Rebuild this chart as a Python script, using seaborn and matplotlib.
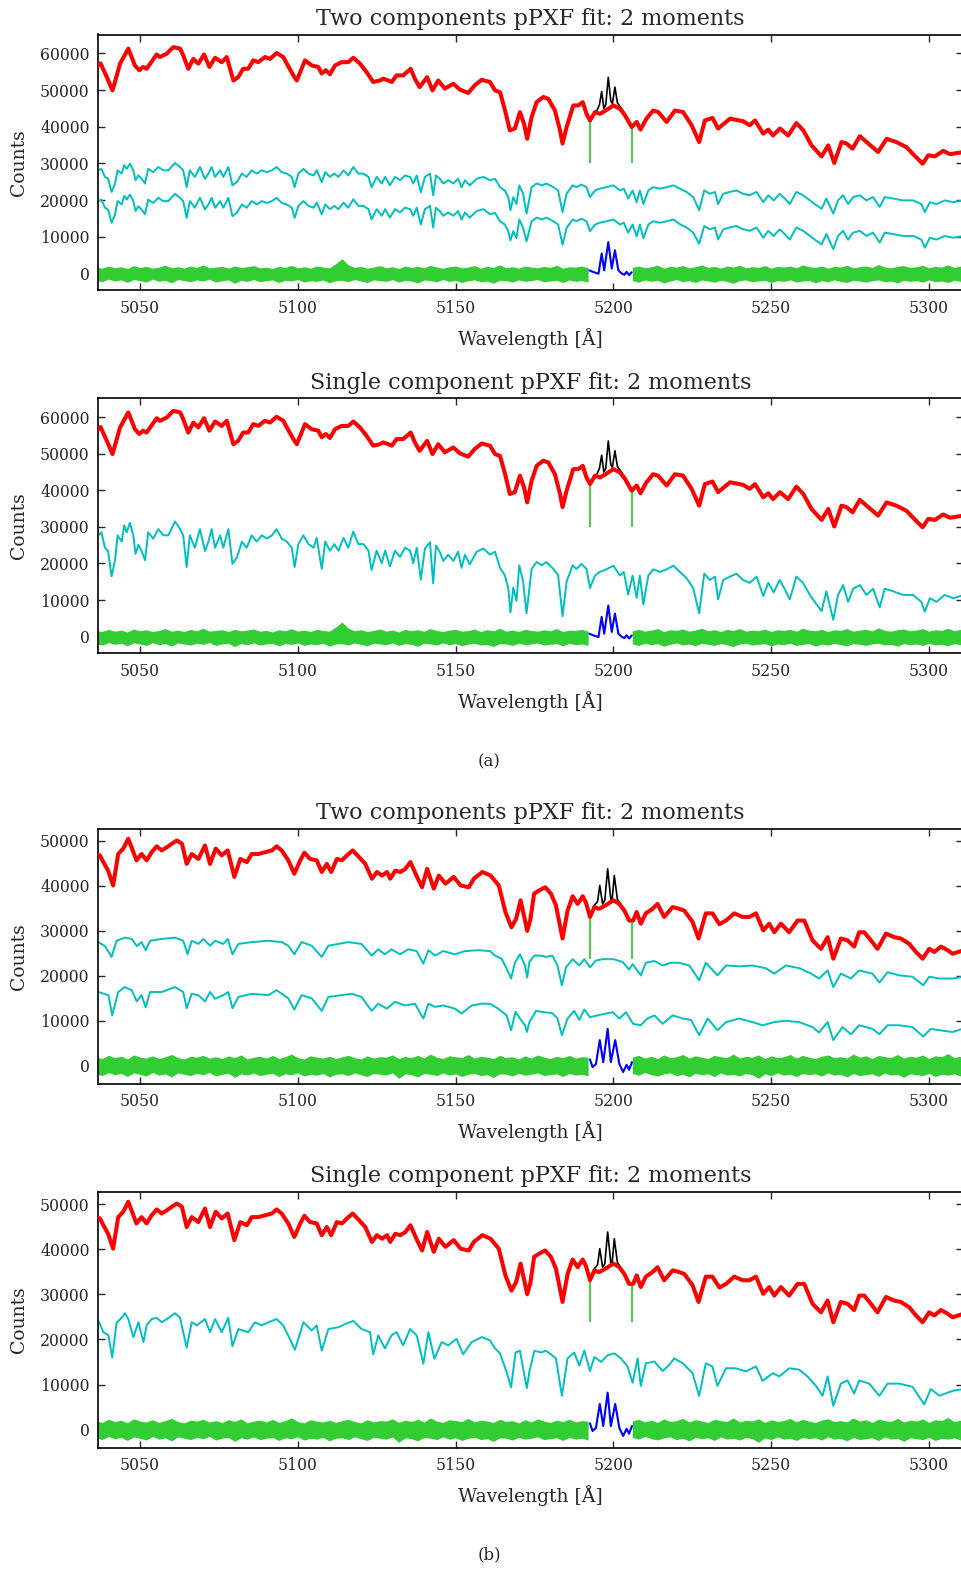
import numpy as np
import matplotlib
matplotlib.use("Agg")
import matplotlib.pyplot as plt
import seaborn as sns

# ---------------- DATA (flux values in thousands of counts) ----------------
# Galaxy (a): best fit (red)
fit_a_wave = [5036.5, 5037.5, 5039.5, 5041.3, 5043.7, 5046.3, 5048.4, 5049.8, 5051.0, 5052.1,
              5055.3, 5056.3, 5058.5, 5059.5, 5060.6, 5062.7, 5063.5, 5065.3, 5066.9, 5068.5,
              5070.3, 5072.0, 5073.8, 5075.9, 5077.5, 5079.6, 5081.1, 5082.7, 5084.3, 5085.9,
              5087.5, 5089.6, 5091.2, 5093.3, 5095.4, 5098.6, 5099.7, 5102.3, 5104.4, 5106.5,
              5107.6, 5108.9, 5110.2, 5111.8, 5113.9, 5116.0, 5117.6, 5119.7, 5121.8, 5123.9,
              5126.0, 5127.1, 5128.7, 5129.8, 5131.3, 5133.4, 5135.8, 5137.1, 5138.6, 5141.0,
              5142.7, 5144.5, 5146.6, 5149.3, 5151.4, 5154.0, 5156.1, 5158.3, 5160.9, 5162.5,
              5164.1, 5165.7, 5167.2, 5168.8, 5170.4, 5171.7, 5172.7, 5174.1, 5175.7, 5177.8,
              5179.4, 5181.5, 5183.1, 5183.9, 5185.2, 5187.3, 5188.9, 5190.3, 5191.5, 5192.6,
              5194.2, 5195.8, 5197.9, 5200.0, 5202.1, 5203.7, 5205.8, 5207.4, 5208.6, 5210.5,
              5212.6, 5214.2, 5216.9, 5219.5, 5222.1, 5224.8, 5227.2, 5229.0, 5231.4, 5233.2,
              5237.0, 5241.1, 5243.2, 5244.9, 5247.5, 5249.1, 5250.6, 5252.8, 5255.4, 5258.0,
              5260.2, 5262.8, 5266.0, 5268.1, 5270.0, 5272.3, 5273.9, 5275.8, 5278.1, 5280.8,
              5283.9, 5286.6, 5289.7, 5292.9, 5295.0, 5298.0, 5299.8, 5301.9, 5304.5, 5306.7,
              5311.0]
fit_a_flux = [56.5, 57.3, 53.5, 49.9, 57.2, 61.3, 56.7, 55.4, 56.3, 55.8,
              59.7, 59.0, 59.9, 60.8, 61.7, 61.3, 59.9, 55.8, 58.5, 57.2,
              59.7, 56.3, 58.8, 57.6, 59.0, 52.6, 53.5, 55.8, 55.8, 58.1,
              57.6, 59.0, 58.5, 60.1, 59.0, 54.0, 52.6, 58.1, 56.7, 56.3,
              54.5, 55.4, 54.3, 56.7, 57.6, 57.6, 58.8, 57.2, 54.9, 52.2,
              52.6, 53.1, 52.6, 52.2, 54.0, 54.0, 55.8, 53.1, 50.8, 53.5,
              49.9, 52.6, 50.4, 51.7, 50.1, 49.2, 51.3, 52.8, 52.2, 49.9,
              49.4, 44.4, 39.0, 39.5, 44.0, 40.8, 36.7, 42.6, 46.7, 48.1,
              47.6, 44.4, 39.0, 35.4, 39.9, 45.8, 45.8, 46.7, 43.5, 41.7,
              44.0, 43.5, 44.6, 45.8, 44.9, 43.1, 39.9, 41.3, 39.2, 42.2,
              44.4, 44.0, 41.3, 44.4, 44.0, 40.4, 35.8, 41.7, 42.4, 39.5,
              42.2, 41.5, 40.4, 41.7, 38.1, 39.2, 37.6, 39.5, 37.6, 41.0,
              39.0, 34.9, 31.9, 34.9, 30.1, 35.8, 35.4, 34.0, 37.4, 35.4,
              33.1, 36.7, 35.8, 34.4, 32.5, 29.9, 32.2, 31.9, 33.4, 32.5,
              33.1]
# Galaxy (a): observed spectrum in the emission-line window (black)
emis_a_wave = [5192.6, 5193.6, 5194.8, 5195.6, 5196.3, 5197.0, 5197.6, 5198.4, 5199.2, 5199.7,
               5200.5, 5201.3, 5202.2, 5203.7, 5205.8]
emis_a_flux = [41.7, 43.0, 44.4, 46.0, 49.6, 45.0, 46.0, 53.5, 47.0, 46.3,
               50.8, 46.5, 45.4, 43.5, 39.9]
# Galaxy (a): emission residual (blue)
blue_a_wave = [5192.4, 5193.5, 5195.3, 5196.3, 5197.1, 5198.4, 5199.5, 5200.5, 5201.6, 5202.6,
               5203.5, 5204.2, 5205.0, 5205.8]
blue_a_flux = [0.8, 0.4, -0.1, 5.4, 0.8, 8.5, 1.3, 6.3, 0.8, 0.0, -0.4, 0.4, -0.5, 0.3]
# Galaxy (a): stellar components (cyan)
comp_a_wave = [5036.8, 5037.8, 5038.9, 5039.9, 5041.0, 5042.1, 5042.9, 5044.2, 5045.0, 5045.8,
               5046.8, 5047.9, 5048.6, 5049.5, 5050.5, 5051.6, 5052.6, 5054.2, 5055.8, 5057.4,
               5059.0, 5061.1, 5062.7, 5063.7, 5064.8, 5065.8, 5067.4, 5069.0, 5070.6, 5071.7,
               5072.7, 5073.8, 5075.4, 5076.4, 5078.0, 5079.3, 5080.7, 5082.3, 5083.8, 5085.4,
               5087.0, 5088.6, 5090.2, 5091.8, 5093.3, 5094.9, 5096.5, 5098.1, 5099.0, 5100.2,
               5101.8, 5103.4, 5105.0, 5106.0, 5107.6, 5108.7, 5110.2, 5111.6, 5112.9, 5114.5,
               5116.0, 5117.6, 5119.2, 5120.8, 5122.4, 5123.4, 5125.0, 5126.6, 5127.7, 5129.2,
               5130.8, 5132.4, 5134.0, 5135.6, 5136.6, 5137.7, 5139.0, 5140.3, 5141.9, 5142.9,
               5143.8, 5145.0, 5146.1, 5147.7, 5149.3, 5150.8, 5151.9, 5153.0, 5154.5, 5156.7,
               5158.8, 5160.9, 5162.5, 5164.1, 5165.6, 5166.7, 5167.4, 5168.3, 5169.3, 5170.2,
               5171.4, 5172.5, 5174.1, 5175.7, 5177.3, 5178.8, 5181.0, 5182.5, 5183.9, 5185.2,
               5187.1, 5188.3, 5189.9, 5191.5, 5192.6, 5194.2, 5195.7, 5197.8, 5200.0, 5202.1,
               5203.3, 5204.7, 5206.1, 5207.4, 5208.4, 5209.5, 5211.1, 5212.6, 5214.8, 5216.9,
               5219.0, 5221.1, 5223.2, 5225.3, 5227.2, 5228.8, 5230.6, 5232.2, 5233.2, 5234.8,
               5236.9, 5239.0, 5241.1, 5243.2, 5245.4, 5247.5, 5249.1, 5250.8, 5252.7, 5254.3,
               5255.9, 5258.0, 5260.1, 5262.3, 5263.8, 5266.0, 5267.5, 5269.7, 5271.2, 5272.8,
               5274.4, 5276.0, 5278.1, 5280.2, 5282.3, 5284.4, 5286.0, 5288.7, 5291.8, 5295.0,
               5297.6, 5298.7, 5300.3, 5302.4, 5305.0, 5307.7, 5311.0]
comp_a_upper = [28.1, 28.5, 26.3, 25.8, 22.2, 24.5, 28.1, 27.2, 29.5, 28.5,
                29.9, 28.1, 25.4, 26.7, 25.8, 24.5, 28.5, 27.6, 29.0, 28.1,
                28.1, 30.1, 29.0, 28.1, 23.5, 28.1, 26.3, 29.0, 25.8, 27.2,
                29.0, 26.3, 28.1, 26.3, 29.0, 24.0, 24.9, 27.2, 26.3, 28.1,
                27.2, 28.1, 27.6, 28.1, 29.0, 27.6, 27.2, 26.3, 23.5, 27.2,
                28.5, 27.2, 26.7, 28.1, 24.9, 27.6, 26.3, 27.2, 26.3, 28.1,
                26.7, 29.0, 27.2, 27.2, 26.3, 23.5, 26.3, 24.5, 26.3, 24.0,
                26.3, 25.4, 26.7, 26.3, 24.5, 26.7, 22.1, 26.3, 27.2, 21.3,
                26.7, 25.8, 24.5, 25.4, 24.5, 25.8, 23.5, 25.4, 24.0, 25.8,
                26.3, 25.4, 25.8, 23.5, 22.6, 20.8, 17.2, 20.8, 18.9, 24.0,
                21.7, 16.3, 23.5, 24.5, 24.0, 24.5, 23.5, 22.6, 16.7, 21.7,
                24.0, 23.5, 24.2, 23.5, 20.8, 22.6, 23.1, 23.5, 24.0, 22.6,
                23.1, 20.4, 22.6, 19.4, 22.6, 18.9, 22.6, 23.5, 23.1, 23.5,
                24.0, 23.1, 22.2, 20.8, 17.2, 22.6, 21.7, 22.2, 18.9, 21.7,
                22.2, 22.6, 21.7, 21.3, 22.2, 19.4, 21.3, 19.9, 21.7, 20.4,
                18.9, 22.2, 21.3, 19.9, 18.9, 17.6, 20.4, 16.3, 19.9, 21.3,
                18.9, 20.8, 21.3, 19.9, 20.8, 18.1, 20.8, 20.4, 19.9, 19.9,
                18.9, 16.7, 19.4, 18.9, 19.9, 19.4, 19.9]
comp_a_lower = [19.7, 20.1, 17.9, 17.4, 13.8, 16.1, 19.7, 18.8, 21.1, 20.1,
                21.5, 19.7, 17.0, 18.3, 17.4, 16.1, 20.1, 19.2, 20.6, 19.7,
                19.7, 21.7, 20.6, 19.7, 15.1, 19.7, 17.9, 20.6, 17.4, 18.8,
                20.6, 17.9, 19.7, 17.9, 20.6, 15.6, 16.5, 18.8, 17.9, 19.7,
                18.8, 19.7, 19.2, 19.7, 20.6, 19.2, 18.8, 17.9, 15.1, 18.4,
                19.7, 18.4, 17.9, 19.3, 16.1, 18.8, 17.5, 18.4, 17.5, 19.3,
                17.9, 20.2, 18.4, 18.4, 17.5, 14.7, 17.5, 15.7, 17.5, 15.2,
                17.5, 16.6, 17.9, 17.5, 15.7, 17.9, 13.3, 17.5, 18.4, 12.5,
                17.9, 17.0, 15.7, 16.6, 15.7, 17.0, 14.7, 16.6, 15.2, 17.0,
                17.5, 16.1, 16.5, 14.2, 13.3, 11.5, 9.0, 11.5, 9.6, 14.7,
                12.4, 8.7, 14.2, 15.2, 14.7, 15.2, 14.2, 13.3, 7.8, 12.4,
                14.7, 14.2, 14.9, 14.2, 11.5, 13.3, 13.8, 14.2, 14.7, 13.3,
                13.8, 11.1, 13.3, 10.1, 13.3, 9.6, 13.3, 14.2, 13.8, 14.2,
                14.7, 13.4, 12.5, 11.1, 8.1, 12.9, 12.0, 12.5, 9.2, 12.0,
                12.5, 12.9, 12.0, 11.6, 12.5, 9.7, 11.6, 10.2, 12.0, 10.7,
                9.2, 12.5, 11.6, 10.2, 9.2, 7.9, 10.7, 6.6, 10.2, 11.6,
                9.2, 11.1, 11.6, 10.2, 11.1, 8.4, 11.1, 10.7, 10.2, 10.2,
                9.2, 7.0, 9.7, 9.2, 10.2, 9.7, 10.2]
comp_a_single = [27.7, 28.5, 24.3, 23.4, 16.5, 20.9, 27.7, 26.0, 30.4, 28.5,
                 31.1, 27.7, 22.6, 25.1, 23.4, 20.9, 28.5, 26.8, 29.4, 27.7,
                 27.7, 31.5, 29.4, 27.7, 19.0, 27.7, 24.3, 29.4, 23.4, 26.0,
                 29.4, 24.3, 27.7, 24.3, 29.4, 19.9, 21.6, 26.0, 24.3, 27.7,
                 26.0, 27.7, 26.8, 27.7, 29.4, 26.8, 26.0, 24.3, 19.0, 25.3,
                 27.7, 25.3, 24.3, 27.0, 18.5, 26.0, 23.5, 25.3, 23.5, 27.0,
                 24.3, 28.7, 25.3, 25.3, 23.5, 18.2, 23.5, 20.1, 23.5, 19.2,
                 23.5, 21.8, 24.3, 23.5, 20.1, 24.3, 15.6, 24.1, 25.8, 14.6,
                 24.9, 23.2, 20.7, 22.4, 20.7, 23.2, 18.8, 22.4, 19.8, 23.2,
                 24.1, 22.4, 23.2, 18.8, 16.8, 13.4, 6.6, 13.4, 9.8, 19.5,
                 15.1, 6.4, 18.5, 20.4, 19.5, 20.4, 18.5, 16.8, 5.6, 15.1,
                 19.5, 18.5, 19.9, 18.5, 13.3, 16.7, 17.7, 18.4, 19.4, 16.7,
                 17.7, 11.5, 16.7, 10.6, 16.7, 8.8, 16.7, 18.4, 17.7, 18.4,
                 19.4, 17.7, 16.0, 13.3, 6.4, 17.2, 15.5, 16.4, 10.2, 15.5,
                 16.4, 17.2, 15.5, 14.7, 16.4, 11.1, 14.7, 12.1, 15.5, 13.0,
                 10.2, 16.4, 14.7, 11.4, 9.5, 7.0, 12.4, 4.6, 11.4, 14.1,
                 9.5, 13.1, 14.1, 11.4, 13.1, 8.0, 13.1, 12.4, 11.4, 11.4,
                 9.5, 6.8, 10.5, 9.5, 11.4, 10.5, 11.4]

# Galaxy (b): best fit (red)
fit_b_wave = [5035.7, 5037.3, 5038.4, 5039.9, 5041.5, 5043.1, 5044.7, 5046.3, 5047.9, 5048.9,
              5050.5, 5052.1, 5053.7, 5055.3, 5056.9, 5058.5, 5060.1, 5061.7, 5063.3, 5064.8,
              5066.4, 5068.5, 5070.6, 5072.2, 5074.0, 5075.9, 5077.8, 5079.9, 5081.8, 5083.9,
              5085.4, 5087.5, 5089.6, 5091.8, 5093.3, 5094.9, 5097.0, 5098.9, 5100.8, 5102.1,
              5103.9, 5106.0, 5107.6, 5109.2, 5110.6, 5112.4, 5114.0, 5115.6, 5117.4, 5119.3,
              5121.4, 5123.5, 5125.1, 5126.7, 5128.3, 5129.3, 5130.9, 5132.5, 5134.1, 5135.7,
              5137.8, 5139.4, 5141.0, 5143.1, 5144.7, 5146.8, 5149.4, 5151.6, 5154.2, 5155.8,
              5158.5, 5161.1, 5163.7, 5165.8, 5167.7, 5169.2, 5170.6, 5171.8, 5172.7, 5173.7,
              5174.9, 5176.5, 5178.4, 5180.2, 5181.8, 5183.9, 5185.5, 5187.1, 5188.7, 5190.3,
              5191.3, 5192.6, 5194.0, 5195.5, 5197.6, 5200.0, 5201.9, 5203.5, 5205.0, 5206.3,
              5207.4, 5208.7, 5210.3, 5212.4, 5214.0, 5216.1, 5218.8, 5220.9, 5222.5, 5225.1,
              5227.0, 5229.3, 5231.4, 5233.6, 5235.7, 5238.3, 5241.0, 5243.1, 5245.2, 5247.5,
              5249.4, 5251.0, 5253.1, 5255.7, 5258.4, 5260.5, 5263.1, 5265.8, 5267.9, 5269.7,
              5272.1, 5274.2, 5276.3, 5277.9, 5279.5, 5281.6, 5283.7, 5286.4, 5289.0, 5291.1,
              5293.8, 5295.9, 5298.0, 5300.1, 5301.7, 5303.8, 5305.9, 5307.5, 5311.0]
fit_b_flux = [47.1, 46.8, 45.3, 43.4, 40.1, 47.1, 48.3, 50.5, 47.5, 45.7,
              47.1, 45.7, 47.5, 48.8, 47.9, 48.6, 49.4, 50.1, 49.4, 44.9,
              47.1, 46.0, 49.0, 44.9, 48.3, 46.8, 47.9, 42.0, 46.0, 45.3,
              47.1, 47.1, 47.5, 47.9, 48.8, 47.9, 45.7, 42.7, 45.7, 47.4,
              46.0, 45.7, 43.1, 44.9, 43.1, 46.0, 45.7, 46.8, 47.9, 46.5,
              44.9, 41.6, 43.1, 42.3, 43.1, 41.6, 43.4, 43.1, 43.8, 45.3,
              42.0, 39.7, 43.8, 39.4, 42.3, 40.5, 42.0, 40.1, 39.7, 41.6,
              43.1, 42.3, 40.1, 34.2, 30.8, 32.7, 36.8, 33.0, 30.0, 32.5,
              38.3, 39.0, 39.7, 38.3, 35.7, 28.3, 34.5, 37.7, 36.0, 37.7,
              36.3, 33.1, 35.3, 34.9, 35.7, 36.8, 36.0, 34.5, 32.3, 32.3,
              34.2, 31.6, 33.9, 34.9, 36.0, 33.1, 35.3, 34.9, 34.5, 32.0,
              28.3, 33.9, 33.9, 31.5, 32.3, 33.9, 33.1, 33.1, 33.9, 30.1,
              31.6, 29.7, 31.6, 29.7, 32.3, 32.3, 27.9, 26.0, 28.6, 23.8,
              28.3, 27.9, 26.5, 29.7, 29.7, 27.9, 26.0, 29.4, 28.6, 28.3,
              27.1, 25.3, 23.8, 26.0, 25.3, 26.5, 25.7, 24.9, 25.7]
emis_b_wave = [5192.6, 5194.0, 5195.0, 5195.7, 5196.6, 5197.3, 5198.2, 5199.2, 5199.6, 5200.3,
               5201.3, 5202.3, 5203.5, 5205.0, 5206.3]
emis_b_flux = [33.1, 35.7, 36.5, 40.1, 36.0, 36.8, 43.8, 37.0, 36.8, 42.3,
               37.0, 36.0, 34.5, 32.3, 32.3]
blue_b_wave = [5192.6, 5193.4, 5194.5, 5195.7, 5196.8, 5198.2, 5199.2, 5200.6, 5201.9, 5203.1,
               5204.2, 5205.0, 5205.9]
blue_b_flux = [1.4, -0.3, 0.4, 5.7, 0.8, 8.2, 0.8, 5.7, 0.4, -1.4, 0.2, -0.9, 0.8]
comp_b_upper_wave = [5036.8, 5038.9, 5041.0, 5042.6, 5045.2, 5047.4, 5049.0, 5050.5, 5051.8, 5053.2,
                     5056.9, 5061.1, 5063.7, 5065.1, 5066.4, 5068.5, 5070.1, 5072.2, 5073.8, 5076.4,
                     5077.8, 5079.3, 5081.2, 5085.4, 5090.7, 5094.9, 5097.0, 5098.9, 5101.2, 5104.4,
                     5107.6, 5109.7, 5112.9, 5116.0, 5120.2, 5123.4, 5125.5, 5127.6, 5129.7, 5132.4,
                     5135.0, 5137.7, 5139.8, 5141.4, 5143.5, 5146.1, 5149.8, 5153.0, 5157.2, 5160.9,
                     5162.5, 5164.6, 5166.2, 5167.6, 5168.8, 5170.4, 5172.0, 5172.7, 5173.4, 5175.0,
                     5177.1, 5178.6, 5180.7, 5182.3, 5183.7, 5185.0, 5187.1, 5189.2, 5190.8, 5192.6,
                     5194.5, 5196.6, 5200.0, 5202.9, 5205.0, 5206.1, 5208.7, 5210.3, 5213.0, 5215.6,
                     5218.2, 5220.9, 5224.1, 5227.2, 5229.3, 5233.0, 5235.7, 5239.9, 5244.1, 5248.3,
                     5251.0, 5254.7, 5258.9, 5262.6, 5265.2, 5267.9, 5269.7, 5272.1, 5275.3, 5277.9,
                     5282.1, 5284.3, 5286.9, 5290.6, 5294.8, 5298.2, 5300.1, 5303.3, 5307.5, 5311.0]
comp_b_upper = [27.5, 26.6, 24.2, 27.8, 28.5, 28.2, 26.6, 27.5, 25.7, 27.8,
                28.2, 28.5, 27.8, 24.8, 27.8, 27.1, 28.2, 26.7, 27.8, 27.1,
                28.2, 24.8, 27.1, 27.5, 27.8, 27.5, 26.7, 24.8, 27.5, 26.7,
                24.2, 26.7, 27.1, 27.5, 27.1, 24.5, 25.9, 24.8, 25.9, 24.8,
                25.9, 25.5, 22.7, 25.7, 24.5, 25.5, 24.8, 25.5, 25.7, 25.5,
                24.5, 23.8, 21.6, 19.4, 22.9, 24.8, 22.3, 19.6, 23.1, 24.5,
                24.5, 24.2, 24.5, 22.3, 17.9, 21.9, 23.7, 22.3, 23.7, 21.9,
                23.4, 23.7, 23.7, 23.1, 21.4, 22.6, 20.1, 22.9, 23.3, 22.3,
                22.9, 22.9, 22.3, 19.0, 22.9, 20.1, 22.3, 22.1, 22.3, 21.7,
                20.5, 22.3, 21.7, 20.5, 19.4, 21.2, 17.5, 20.5, 19.4, 21.2,
                20.5, 18.5, 20.8, 20.1, 19.8, 17.9, 19.8, 19.4, 19.4, 19.8]
comp_b_lower_wave = [5036.8, 5040.0, 5041.2, 5043.1, 5045.2, 5047.4, 5049.0, 5050.5, 5051.8, 5053.2,
                     5056.9, 5061.1, 5063.7, 5064.8, 5066.4, 5068.5, 5070.6, 5072.2, 5073.8, 5076.4,
                     5078.0, 5079.3, 5081.2, 5085.4, 5090.7, 5093.3, 5097.0, 5098.9, 5101.2, 5104.4,
                     5107.6, 5109.7, 5113.9, 5117.1, 5120.2, 5123.4, 5125.5, 5128.2, 5130.8, 5134.0,
                     5137.1, 5139.8, 5141.4, 5143.5, 5146.1, 5149.8, 5151.9, 5155.1, 5158.3, 5160.9,
                     5163.5, 5166.2, 5167.6, 5169.0, 5170.4, 5172.0, 5172.6, 5173.4, 5175.5, 5178.1,
                     5180.7, 5182.3, 5183.7, 5185.5, 5187.6, 5189.2, 5190.8, 5192.6, 5195.0, 5197.6,
                     5199.8, 5201.9, 5204.0, 5206.3, 5208.7, 5210.8, 5213.0, 5215.6, 5218.8, 5222.0,
                     5224.6, 5227.2, 5229.9, 5233.0, 5235.7, 5239.9, 5244.1, 5247.3, 5251.0, 5254.7,
                     5258.9, 5263.1, 5265.2, 5267.9, 5269.7, 5272.6, 5275.3, 5277.9, 5282.1, 5284.3,
                     5286.9, 5290.6, 5294.8, 5298.2, 5300.6, 5303.3, 5307.5, 5311.0]
comp_b_lower = [16.4, 15.7, 11.2, 16.4, 17.5, 16.8, 14.3, 15.7, 13.0, 16.4,
                16.4, 17.5, 16.4, 12.8, 16.0, 15.7, 14.3, 16.4, 14.9, 15.7,
                16.4, 12.8, 15.3, 16.0, 15.7, 16.8, 15.0, 12.5, 15.7, 15.0,
                12.2, 15.3, 15.7, 16.0, 15.3, 12.2, 13.8, 12.7, 14.2, 13.4,
                13.8, 10.5, 13.8, 13.1, 13.4, 12.7, 11.6, 13.4, 13.8, 13.8,
                12.7, 11.2, 7.9, 12.0, 10.5, 9.0, 7.5, 9.7, 12.2, 11.9,
                11.7, 10.5, 6.8, 10.5, 12.2, 10.2, 12.5, 10.8, 11.2, 11.6,
                11.9, 10.5, 11.9, 9.3, 9.0, 10.5, 11.2, 9.3, 11.2, 10.5,
                10.2, 6.8, 10.5, 7.9, 9.7, 10.5, 9.7, 9.0, 9.7, 10.0,
                9.7, 8.6, 7.4, 9.7, 5.7, 8.6, 7.0, 9.0, 8.2, 7.0,
                9.0, 9.0, 8.6, 6.5, 8.2, 7.9, 7.5, 8.3]
comp_b_single_wave = [5036.8, 5038.4, 5040.0, 5041.2, 5042.6, 5044.2, 5045.2, 5046.3, 5047.9, 5049.5,
                      5051.1, 5052.1, 5053.7, 5055.3, 5056.9, 5058.5, 5061.1, 5062.7, 5064.8, 5066.4,
                      5068.0, 5070.6, 5072.2, 5073.8, 5075.9, 5078.0, 5079.3, 5081.2, 5084.3, 5086.4,
                      5088.5, 5090.7, 5093.3, 5095.4, 5097.5, 5099.1, 5101.8, 5104.4, 5106.0, 5107.6,
                      5109.7, 5112.9, 5115.0, 5117.6, 5120.2, 5122.9, 5123.9, 5125.5, 5127.6, 5129.7,
                      5131.3, 5133.4, 5135.6, 5137.7, 5139.8, 5141.4, 5143.3, 5145.6, 5147.7, 5150.3,
                      5152.4, 5155.1, 5158.3, 5160.9, 5162.5, 5164.1, 5166.2, 5167.6, 5169.0, 5170.4,
                      5172.0, 5172.6, 5173.4, 5175.0, 5177.1, 5178.6, 5180.2, 5181.8, 5183.7, 5185.5,
                      5187.6, 5189.2, 5190.8, 5192.6, 5194.0, 5196.1, 5198.2, 5200.3, 5202.4, 5204.5,
                      5206.1, 5207.7, 5208.7, 5210.3, 5213.0, 5215.6, 5217.7, 5219.3, 5222.0, 5225.1,
                      5227.2, 5229.3, 5231.4, 5233.0, 5235.7, 5238.8, 5242.0, 5245.2, 5247.3, 5250.5,
                      5252.6, 5255.7, 5258.9, 5261.5, 5264.2, 5266.3, 5267.9, 5269.7, 5272.1, 5274.2,
                      5276.3, 5277.9, 5281.1, 5284.3, 5286.9, 5290.6, 5294.8, 5298.5, 5300.6, 5303.3,
                      5307.5, 5311.0]
comp_b_single = [24.2, 21.6, 20.9, 16.0, 23.7, 24.8, 25.8, 24.5, 20.5, 23.8,
                 19.4, 23.1, 24.5, 24.8, 23.8, 24.5, 25.8, 24.8, 18.2, 23.8,
                 23.1, 24.5, 21.6, 24.5, 21.6, 24.8, 18.5, 22.3, 21.6, 23.8,
                 23.1, 23.8, 24.5, 23.1, 20.1, 17.7, 23.8, 22.0, 23.1, 17.5,
                 22.3, 22.7, 23.4, 24.1, 22.3, 21.6, 16.7, 20.9, 18.0, 20.9,
                 21.6, 18.7, 22.3, 20.9, 14.6, 21.6, 15.7, 19.4, 18.7, 20.1,
                 16.7, 19.4, 20.5, 19.8, 18.0, 16.9, 12.7, 9.4, 17.1, 17.5,
                 11.3, 9.2, 12.9, 17.5, 17.1, 17.5, 16.7, 15.8, 7.5, 15.8,
                 17.1, 14.2, 17.5, 13.0, 16.1, 15.0, 16.5, 16.9, 15.8, 14.0,
                 10.4, 15.8, 9.7, 14.7, 15.1, 13.0, 14.3, 15.8, 14.7, 12.5,
                 7.5, 14.7, 14.0, 9.7, 13.6, 13.6, 12.9, 14.0, 10.8, 12.5,
                 11.8, 13.6, 13.3, 11.8, 9.7, 7.5, 11.8, 5.3, 10.2, 10.9,
                 8.0, 10.9, 10.2, 7.5, 10.2, 10.2, 9.5, 5.6, 9.0, 7.5,
                 8.6, 9.0]

# Residual envelopes (green), 2 A steps; left: 5036..5192, right: 5206..5312
res_left_wave = list(range(5036, 5193, 2))
res_right_wave = list(range(5206, 5313, 2))
res_a_hi_left = [1.7, 1.4, 2.0, 1.5, 1.8, 1.3, 2.1, 1.6, 1.9, 1.4, 1.7, 2.2, 1.5, 1.8, 1.4, 2.0, 1.6, 2.3, 1.5, 1.7,
                 1.9, 1.4, 2.0, 1.6, 1.8, 2.1, 1.5, 1.7, 1.3, 1.9, 1.6, 2.2, 1.5, 1.8, 1.4, 2.0, 1.7, 1.5, 2.6, 4.0,
                 2.3, 1.6, 1.9, 1.4, 1.7, 2.1, 1.5, 1.8, 1.3, 2.0, 1.6, 1.9, 1.5, 2.2, 1.7, 1.4, 1.8, 2.0, 1.5, 1.7,
                 2.1, 1.4, 1.9, 1.6, 2.3, 1.5, 1.8, 1.4, 2.0, 1.7, 1.5, 1.9, 1.6, 2.2, 1.4, 1.8, 1.7, 2.0, 1.5]
res_a_lo_left = [-1.9, -2.3, -1.6, -2.1, -1.8, -2.5, -1.7, -2.0, -2.4, -1.6, -2.2, -1.9, -2.6, -1.7, -2.0, -2.3, -1.8, -2.1, -1.6, -2.4,
                 -2.0, -1.8, -2.7, -1.9, -2.2, -1.7, -2.3, -2.0, -1.8, -2.5, -1.9, -2.1, -1.7, -2.4, -2.0, -2.2, -1.8, -2.6, -2.0, -1.9,
                 -2.3, -1.7, -2.1, -2.5, -1.8, -2.0, -2.2, -1.7, -2.4, -1.9, -2.1, -2.6, -1.8, -2.0, -2.3, -1.7, -2.2, -1.9, -2.5, -2.0,
                 -1.8, -2.3, -2.1, -2.7, -1.9, -2.0, -2.4, -1.8, -2.2, -2.0, -1.7, -2.3, -2.1, -1.9, -2.5, -1.8, -2.2, -2.0, -2.4]
res_a_hi_right = [1.6, 2.0, 1.5, 1.8, 2.2, 1.4, 1.9, 1.7, 2.1, 1.5, 1.8, 2.3, 1.6, 1.9, 1.4, 2.0, 1.7, 2.2, 1.5, 1.8,
                  1.6, 2.1, 1.4, 1.9, 1.7, 2.0, 1.5, 2.3, 1.8, 1.6, 2.0, 1.4, 1.9, 1.7, 2.2, 1.5, 1.8, 2.0, 1.6, 2.4,
                  1.7, 1.5, 1.9, 2.1, 1.6, 1.8, 2.2, 1.5, 1.9, 1.7, 2.3, 1.6, 2.0, 1.8]
res_a_lo_right = [-2.0, -2.4, -1.8, -2.2, -1.9, -2.6, -2.1, -1.7, -2.3, -2.0, -2.5, -1.8, -2.1, -2.4, -1.9, -2.2, -2.7, -2.0, -1.8, -2.3,
                  -2.1, -1.9, -2.5, -2.0, -2.2, -1.8, -2.4, -2.1, -1.9, -2.6, -2.0, -2.3, -1.8, -2.2, -2.5, -1.9, -2.1, -2.4, -2.0, -1.8,
                  -2.3, -2.1, -2.6, -1.9, -2.2, -2.0, -2.4, -1.8, -2.3, -2.1, -2.5, -1.9, -2.2, -2.0]
res_b_hi_left = [2.0, 1.6, 2.3, 1.8, 2.1, 1.5, 2.4, 1.9, 1.7, 2.2, 1.6, 2.0, 2.5, 1.8, 1.5, 2.1, 1.9, 2.3, 1.7, 2.0,
                 1.6, 2.2, 1.8, 2.4, 1.5, 1.9, 2.1, 1.7, 2.3, 1.6, 2.0, 2.6, 1.8, 1.5, 2.2, 1.9, 1.7, 2.1, 1.6, 2.0,
                 2.3, 1.8, 1.5, 2.2, 1.7, 2.0, 1.9, 2.4, 1.6, 2.1, 1.8, 2.3, 1.7, 2.6, 1.9, 1.6, 2.2, 2.0, 1.8, 2.5,
                 1.7, 2.1, 1.9, 1.6, 2.3, 1.8, 2.0, 1.5, 2.2, 1.7, 2.4, 1.9, 1.6, 2.1, 1.8, 2.3, 1.7, 2.0, 1.9]
res_b_lo_left = [-1.8, -2.2, -1.5, -2.0, -1.7, -2.4, -1.6, -1.9, -2.3, -1.5, -2.1, -1.8, -2.5, -1.6, -1.9, -2.2, -1.7, -2.0, -1.5, -2.3,
                 -1.9, -1.7, -2.6, -1.8, -2.1, -1.6, -2.2, -1.9, -1.7, -2.4, -1.8, -2.0, -1.6, -2.3, -1.9, -2.1, -1.7, -2.5, -1.9, -1.8,
                 -2.2, -1.6, -2.0, -2.4, -1.7, -1.9, -2.1, -1.6, -2.8, -1.8, -2.0, -2.5, -1.7, -1.9, -2.2, -1.6, -2.1, -1.8, -2.4, -1.9,
                 -1.7, -2.2, -2.0, -2.6, -1.8, -1.9, -2.3, -1.7, -2.1, -1.9, -1.6, -2.2, -2.0, -1.8, -2.4, -1.7, -2.1, -1.9, -2.3]
res_b_hi_right = [1.9, 2.3, 1.7, 2.1, 1.6, 2.4, 1.8, 2.0, 2.5, 1.7, 2.2, 1.9, 1.6, 2.3, 2.0, 1.8, 2.6, 1.7, 2.1, 1.9,
                  2.4, 1.6, 2.2, 1.8, 2.0, 2.5, 1.7, 2.3, 1.9, 1.6, 2.1, 2.4, 1.8, 2.0, 1.7, 2.6, 1.9, 2.2, 1.6, 2.3,
                  2.0, 1.8, 2.5, 1.7, 2.1, 1.9, 2.4, 1.6, 2.2, 2.0, 2.7, 1.8, 2.1, 1.9]
res_b_lo_right = [-1.7, -2.1, -1.5, -2.0, -2.3, -1.8, -1.6, -2.2, -1.9, -2.5, -1.7, -2.0, -1.8, -2.4, -1.6, -2.1, -1.9, -2.3, -1.7, -2.0,
                  -2.8, -1.8, -2.2, -1.6, -2.1, -1.9, -2.4, -1.7, -2.0, -1.8, -2.3, -1.6, -2.1, -1.9, -2.5, -1.7, -2.2, -2.0, -1.8, -2.4,
                  -1.6, -2.1, -1.9, -2.6, -1.8, -2.0, -2.2, -1.7, -2.4, -1.9, -2.1, -1.8, -2.3, -2.0]

# Masked-window markers (green vertical lines)
gap_wave = [5192.6, 5205.9]
gap_top_a = [41.7, 39.9]
gap_bottom_a = 30.0
gap_top_b = [33.1, 32.3]
gap_bottom_b = 23.8

titles = ["Two components pPXF fit: 2 moments", "Single component pPXF fit: 2 moments"]
xticks = [5050, 5100, 5150, 5200, 5250, 5300]
yticks_a = [0, 10000, 20000, 30000, 40000, 50000, 60000]
yticks_b = [0, 10000, 20000, 30000, 40000, 50000]

# ---------------- STYLE ----------------
sns.set_style("ticks")
plt.rcParams['font.family'] = ['DejaVu Serif']
plt.rcParams.update({
    'xtick.direction': 'in', 'ytick.direction': 'in',
    'xtick.top': True, 'ytick.right': True,
    'xtick.major.size': 5, 'ytick.major.size': 5,
    'xtick.major.width': 1.0, 'ytick.major.width': 1.0,
    'axes.linewidth': 1.2, 'axes.edgecolor': 'black',
    'lines.solid_joinstyle': 'round', 'lines.solid_capstyle': 'round',
})

K = 1000.0  # lists are in thousands of counts


def counts(v):
    return np.asarray(v, dtype=float) * K


def line(ax, x, y, color, lw, z):
    sns.lineplot(x=np.asarray(x, dtype=float), y=counts(y), ax=ax, color=color, lw=lw,
                 sort=False, estimator=None, legend=False, zorder=z,
                 solid_joinstyle='round', solid_capstyle='round')


W, H = 961.0, 1569.0
fig = plt.figure(figsize=(9.61, 15.69), dpi=100)


def make_axes(top_px, bottom_px):
    return fig.add_axes([98 / W, 1 - bottom_px / H, (963 - 98) / W, (bottom_px - top_px) / H])


def panel(ax, title, fit_w, fit_f, emis_w, emis_f, comps, blue_w, blue_f,
          rhl, rll, rhr, rlr, gap_top, gap_bottom, ylim, yticks):
    gal_w = [w for w in fit_w if w < emis_w[0]] + emis_w + [w for w in fit_w if w > emis_w[-1]]
    gal_f = [f for w, f in zip(fit_w, fit_f) if w < emis_w[0]] + emis_f + \
            [f for w, f in zip(fit_w, fit_f) if w > emis_w[-1]]
    line(ax, gal_w, gal_f, 'black', 1.2, 2)
    line(ax, fit_w, fit_f, '#ff0000', 2.9, 3)
    for cw, cf in comps:
        line(ax, cw, cf, '#00bfbf', 1.4, 2)
    ax.fill_between(res_left_wave, counts(rll), counts(rhl), color='#32cd32', lw=0, zorder=2)
    ax.fill_between(res_right_wave, counts(rlr), counts(rhr), color='#32cd32', lw=0, zorder=2)
    line(ax, blue_w, blue_f, '#0000ff', 1.5, 3)
    ax.vlines(gap_wave, gap_bottom * K, counts(gap_top), color='#32cd32', lw=1.3, zorder=2)
    ax.set_xlim(5036.7, 5310.8)
    ax.set_ylim(*ylim)
    ax.set_xticks(xticks)
    ax.set_yticks(yticks)
    ax.tick_params(axis='both', labelsize=11.3)
    ax.tick_params(axis='x', pad=7)
    ax.tick_params(axis='y', pad=6)
    ax.set_title(title, fontsize=16, pad=7)
    ax.set_xlabel("Wavelength [Å]", fontsize=13.5, labelpad=8)
    ax.set_ylabel("Counts", fontsize=13.5, labelpad=9)
    for s in ax.spines.values():
        s.set_visible(True)


ax1 = make_axes(34.5, 290.0)
panel(ax1, titles[0], fit_a_wave, fit_a_flux, emis_a_wave, emis_a_flux,
      [(comp_a_wave, comp_a_upper), (comp_a_wave, comp_a_lower)], blue_a_wave, blue_a_flux,
      res_a_hi_left, res_a_lo_left, res_a_hi_right, res_a_lo_right,
      gap_top_a, gap_bottom_a, (-4550, 65150), yticks_a)

ax2 = make_axes(398.3, 653.3)
panel(ax2, titles[1], fit_a_wave, fit_a_flux, emis_a_wave, emis_a_flux,
      [(comp_a_wave, comp_a_single)], blue_a_wave, blue_a_flux,
      res_a_hi_left, res_a_lo_left, res_a_hi_right, res_a_lo_right,
      gap_top_a, gap_bottom_a, (-4550, 65150), yticks_a)

ax3 = make_axes(828.7, 1083.7)
panel(ax3, titles[0], fit_b_wave, fit_b_flux, emis_b_wave, emis_b_flux,
      [(comp_b_upper_wave, comp_b_upper), (comp_b_lower_wave, comp_b_lower)], blue_b_wave, blue_b_flux,
      res_b_hi_left, res_b_lo_left, res_b_hi_right, res_b_lo_right,
      gap_top_b, gap_bottom_b, (-4000, 52730), yticks_b)

ax4 = make_axes(1191.7, 1447.7)
panel(ax4, titles[1], fit_b_wave, fit_b_flux, emis_b_wave, emis_b_flux,
      [(comp_b_single_wave, comp_b_single)], blue_b_wave, blue_b_flux,
      res_b_hi_left, res_b_lo_left, res_b_hi_right, res_b_lo_right,
      gap_top_b, gap_bottom_b, (-4000, 52730), yticks_b)

fig.text(489 / W, 1 - 762 / H, "(a)", ha='center', va='center', fontsize=12)
fig.text(489 / W, 1 - 1555 / H, "(b)", ha='center', va='center', fontsize=12)

fig.savefig("out.png", dpi=100)
